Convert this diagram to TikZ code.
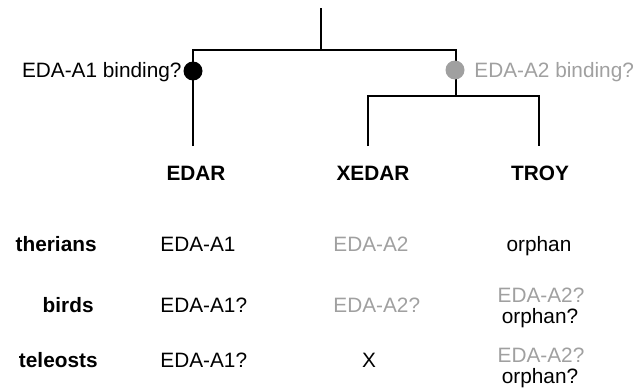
\documentclass[tikz,border=0pt]{standalone}
\usepackage{fontspec}
\setmainfont{Liberation Sans}
\usepackage{xcolor}
\definecolor{edagray}{RGB}{160,160,160}
\definecolor{edablack}{RGB}{0,0,0}
\usepackage{tikz}
\usetikzlibrary{calc}

\begin{document}
\begin{tikzpicture}[x=0.5pt,y=-0.5pt,
        every node/.style={inner sep=0pt, font=\fontsize{10.4}{12}\selectfont},
        branch/.style={draw=edablack, line width=1.3pt, line join=miter},
        bead/.style={circle, minimum size=9.5pt, inner sep=0pt},
        gene/.style={anchor=base, font=\fontsize{10.4}{12}\selectfont\bfseries},
        taxon/.style={anchor=base east, font=\fontsize{10.4}{12}\selectfont\bfseries},
        cellw/.style={anchor=base west},
        cellc/.style={anchor=base},
        faded/.style={text=edagray}]
    \useasboundingbox (0,0) rectangle (638,391);
    % tree
    \coordinate (top) at (321,8);
    \coordinate (root) at (321,50);
    \coordinate (sub) at (456,96);
    \coordinate (leafE) at (193,146);
    \coordinate (leafX) at (368,146);
    \coordinate (leafT) at (539,146);
    \draw[branch] (top) -- (root);
    \draw[branch] (leafE) |- (root) -| (sub);
    \draw[branch] (leafX) |- (sub) -| (leafT);
    \node[bead, fill=edablack] (dotA1) at (193,71) {};
    \node[bead, fill=edagray] (dotA2) at (455,70) {};
    \node[anchor=base east] (bindA1) at (182,77) {EDA-A1 binding?};
    \node[anchor=base west, faded] (bindA2) at (474,77) {EDA-A2 binding?};
    % receptors
    \node[gene] (edar) at (196,180) {EDAR};
    \node[gene] (xedar) at (373,180) {XEDAR};
    \node[gene] (troy) at (540,180) {TROY};
    % taxa
    \node[taxon] (therians) at (97,251) {therians};
    \node[taxon] (birds) at (94,312) {birds};
    \node[taxon] (teleosts) at (98,367) {teleosts};
    % ligands
    \node[cellw] (thE) at (160,251) {EDA-A1};
    \node[cellw, faded] (thX) at (333,251) {EDA-A2};
    \node[cellc] (thT) at (539,251) {orphan};
    \node[cellw] (biE) at (160,312) {EDA-A1?};
    \node[cellw, faded] (biX) at (333,312) {EDA-A2?};
    \node[cellc, faded] (biT) at (541,302) {EDA-A2?};
    \node[cellc] (biT2) at (540,323) {orphan?};
    \node[cellw] (teE) at (160,367) {EDA-A1?};
    \node[cellc] (teX) at (369,367) {X};
    \node[cellc, faded] (teT) at (541,362) {EDA-A2?};
    \node[cellc] (teT2) at (540,383) {orphan?};
\end{tikzpicture}
\end{document}
